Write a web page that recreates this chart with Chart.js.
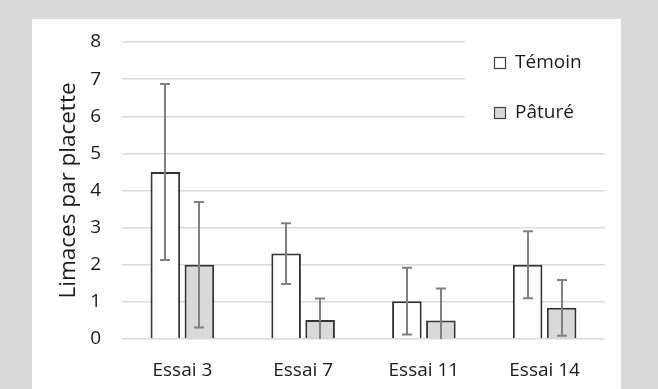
<!DOCTYPE html>
<html>
<head>
<meta charset="utf-8">
<script src="https://cdn.jsdelivr.net/npm/chart.js@4.4.1/dist/chart.umd.min.js"></script>
<style>
  html, body { margin: 0; padding: 0; background: #d9d9d9; width: 658px; height: 389px; overflow: hidden; }
  #panel { position: absolute; left: 32px; top: 19px; width: 589px; height: 370px; background: #ffffff; }
  #c { display: block; }
</style>
</head>
<body>
<div id="panel"><canvas id="c" width="589" height="370"></canvas></div>
<script>
const categories = ['Essai 3', 'Essai 7', 'Essai 11', 'Essai 14'];
const seriesNames = ['Témoin', 'Pâturé'];
const temoinValues = [4.5, 2.3, 1.02, 2.0];
const temoinErrors = [2.37, 0.82, 0.9, 0.9];
const patureValues = [2.0, 0.51, 0.5, 0.84];
const patureErrors = [1.69, 0.58, 0.86, 0.75];
const yTicks = [0, 1, 2, 3, 4, 5, 6, 7, 8];
const yTitle = 'Limaces par placette';

const FONT = '"Open Sans", "Liberation Sans", sans-serif';
const TEXT = '#1a1a1a';
const fills = ['#ffffff', '#d9d9d9'];
const errors = [temoinErrors, patureErrors];

const errorBars = {
  id: 'errorBars',
  afterDatasetsDraw(chart) {
    const ctx = chart.ctx;
    const y = chart.scales.y;
    const a = chart.chartArea;
    ctx.save();
    ctx.beginPath();
    ctx.rect(a.left, a.top - 20, a.right - a.left, a.bottom - a.top + 20);
    ctx.clip();
    ctx.strokeStyle = '#808080';
    ctx.lineWidth = 2;
    chart.data.datasets.forEach((ds, i) => {
      const meta = chart.getDatasetMeta(i);
      meta.data.forEach((bar, j) => {
        const v = ds.data[j], e = errors[i][j];
        const x = Math.round(bar.x);
        const yt = y.getPixelForValue(v + e);
        const yb = y.getPixelForValue(v - e);
        ctx.beginPath();
        ctx.moveTo(x, yt); ctx.lineTo(x, yb);
        ctx.moveTo(x - 5, yt); ctx.lineTo(x + 5, yt);
        ctx.moveTo(x - 5, yb); ctx.lineTo(x + 5, yb);
        ctx.stroke();
      });
    });
    ctx.restore();
  }
};

const legendBox = {
  id: 'legendBox',
  beforeDatasetsDraw(chart) {
    const ctx = chart.ctx;
    const a = chart.chartArea;
    ctx.save();
    ctx.fillStyle = '#ffffff';
    ctx.fillRect(a.right - 140, 0, 141, 115);
    ctx.restore();
  },
  afterDraw(chart) {
    const ctx = chart.ctx;
    const a = chart.chartArea;
    const bx = a.right - 111;
    const rows = [44, 94];
    ctx.save();
    ctx.font = '19px ' + FONT;
    ctx.textBaseline = 'middle';
    seriesNames.forEach((name, i) => {
      const cy = rows[i];
      ctx.fillStyle = fills[i];
      ctx.fillRect(bx, cy - 6, 12, 12);
      ctx.strokeStyle = '#404040';
      ctx.lineWidth = 1.2;
      ctx.strokeRect(bx + 0.5, cy - 5.5, 11, 11);
      ctx.fillStyle = TEXT;
      ctx.fillText(name, bx + 21, cy);
    });
    ctx.restore();
  }
};

new Chart(document.getElementById('c'), {
  type: 'bar',
  data: {
    labels: categories,
    datasets: [
      { label: seriesNames[0], data: temoinValues, backgroundColor: fills[0], borderColor: '#333333', borderWidth: 2,
        categoryPercentage: 0.563, barPercentage: 0.87 },
      { label: seriesNames[1], data: patureValues, backgroundColor: fills[1], borderColor: '#333333', borderWidth: 2,
        categoryPercentage: 0.563, barPercentage: 0.87 }
    ]
  },
  options: {
    responsive: false,
    animation: false,
    devicePixelRatio: 1,
    layout: { padding: { left: 0, right: 16, top: 23, bottom: 0 } },
    plugins: { legend: { display: false }, tooltip: { enabled: false } },
    scales: {
      x: {
        grid: { display: false, drawTicks: false },
        border: { display: false },
        ticks: { font: { family: FONT, size: 19 }, color: TEXT, padding: 20 },
        afterFit(s) { s.height = 50; s.paddingLeft = 0; s.paddingRight = 0; }
      },
      y: {
        min: 0, max: 8,
        afterBuildTicks(s) { s.ticks = yTicks.map(v => ({ value: v })); },
        grid: { color: '#d9d9d9', lineWidth: 1.5, drawTicks: false },
        border: { display: false },
        ticks: { font: { family: FONT, size: 19 }, color: TEXT, padding: 21 },
        title: { display: true, text: yTitle, font: { family: FONT, size: 22.5 }, color: TEXT, padding: { top: 23, bottom: 0 } },
        afterFit(s) { s.width = 90; s.paddingTop = 0; s.paddingBottom = 0; }
      }
    }
  },
  plugins: [errorBars, legendBox]
});
</script>
</body>
</html>
